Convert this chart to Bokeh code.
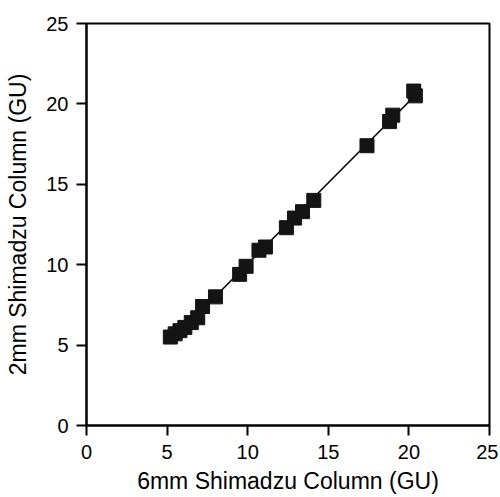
import numpy as np
from bokeh.plotting import figure
from bokeh.models import Range1d, FixedTicker
from bokeh.embed import file_html
from bokeh.resources import INLINE

x_6mm = [5.2, 5.5, 5.8, 6.1, 6.5, 6.9, 7.2, 8.0, 9.5, 9.9, 10.7, 11.1, 12.4, 12.9, 13.4, 14.1, 17.4, 18.8, 19.0, 20.3, 20.4]
y_2mm = [5.5, 5.7, 5.9, 6.1, 6.4, 6.7, 7.4, 8.0, 9.4, 9.9, 10.9, 11.1, 12.3, 12.9, 13.3, 14.0, 17.4, 18.9, 19.3, 20.8, 20.5]
ticks = [0, 5, 10, 15, 20, 25]

FONT = "Liberation Sans"

p = figure(width=498, height=496, output_backend="svg", toolbar_location=None,
           x_range=Range1d(0, 25), y_range=Range1d(0, 25),
           min_border_left=86, min_border_right=9, min_border_top=23, min_border_bottom=71)
p.xgrid.visible = False
p.ygrid.visible = False
p.outline_line_color = "black"
p.outline_line_width = 2
p.outline_line_alpha = 1

for ax in (p.xaxis[0], p.yaxis[0]):
    ax.ticker = FixedTicker(ticks=ticks)
    ax.minor_tick_line_color = None
    ax.major_tick_in = 0
    ax.major_tick_out = 10
    ax.major_tick_line_width = 2
    ax.major_tick_line_color = "black"
    ax.axis_line_width = 2
    ax.axis_line_color = "black"
    ax.major_label_text_font = FONT
    ax.major_label_text_font_size = "20px"
    ax.major_label_text_color = "black"
    ax.axis_label_text_font = FONT
    ax.axis_label_text_font_size = "23px"
    ax.axis_label_text_font_style = "normal"
    ax.axis_label_text_color = "black"

p.xaxis.axis_label = "6mm Shimadzu Column (GU)"
p.yaxis.axis_label = "2mm Shimadzu Column (GU)"
p.xaxis.major_label_standoff = 9
p.yaxis.major_label_standoff = 8
p.xaxis.axis_label_standoff = 6
p.yaxis.axis_label_standoff = 12

xs = np.array(x_6mm)
ys = np.array(y_2mm)
m, b = np.polyfit(xs, ys, 1)
lx = [xs.min(), xs.max()]
p.line(lx, [m * v + b for v in lx], line_color="black", line_width=1.6)
p.scatter(x_6mm, y_2mm, marker="square", size=14, fill_color="#141414", line_color="#141414")

open("out.html", "w").write(file_html(p, INLINE))
